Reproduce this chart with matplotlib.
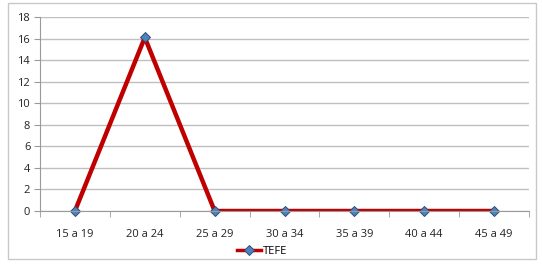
import matplotlib.pyplot as plt
from matplotlib.patches import Rectangle
from matplotlib.lines import Line2D

# Data
categories = ["15 a 19", "20 a 24", "25 a 29", "30 a 34", "35 a 39", "40 a 44", "45 a 49"]
tefe = [0, 16.1, 0, 0, 0, 0, 0]
yticks = list(range(0, 20, 2))

plt.rcParams['font.family'] = ['Open Sans', 'DejaVu Sans']

fig = plt.figure(figsize=(5.42, 2.65), dpi=100)
ax = fig.add_axes([40 / 542, 1 - 211 / 265, 489 / 542, 194 / 265])

# outer chart frame
fig.patches.append(Rectangle((8 / 542, 1 - 259 / 265), 528 / 542, 256 / 265,
                             transform=fig.transFigure, fill=False,
                             edgecolor="#c8c8c8", linewidth=1))

x = list(range(len(categories)))
# line clipped to the plot area, markers drawn on top unclipped
ax.plot(x, tefe, color="#c00000", linewidth=3.2, zorder=3)
ax.plot(x, tefe, linestyle="none", marker="D", markersize=5.5,
        markerfacecolor="#4f81bd", markeredgecolor="#2c4d75", markeredgewidth=0.7,
        zorder=4, clip_on=False)

ax.set_xlim(-0.5, len(categories) - 0.5)
ax.set_ylim(0, 18)
ax.set_yticks(yticks)
ax.set_xticks(x)
ax.set_xticklabels(categories)
ax.set_xticks([i - 0.5 for i in range(len(categories) + 1)], minor=True)
ax.grid(axis="y", color="#bfbfbf", linewidth=1)
ax.set_axisbelow(True)

for s in ["top", "right"]:
    ax.spines[s].set_visible(False)
for s in ["left", "bottom"]:
    ax.spines[s].set_color("#9a9a9a")
    ax.spines[s].set_zorder(5)
ax.tick_params(axis="x", which="major", length=0, pad=13, labelsize=8, colors="#222222")
ax.tick_params(axis="x", which="minor", length=4, color="#9a9a9a")
ax.tick_params(axis="y", length=4, color="#9a9a9a", labelsize=8, labelcolor="#222222", pad=3)

handle = Line2D([], [], color="#c00000", linewidth=2.5, marker="D", markersize=5,
                markerfacecolor="#4f81bd", markeredgecolor="#2c4d75", markeredgewidth=0.7)
fig.legend([handle], ["TEFE"], loc="center", bbox_to_anchor=(262 / 542, 1 - 251 / 265),
           frameon=False, fontsize=8, handlelength=2.2, handletextpad=0.1)

fig.savefig("out.png", dpi=100)
